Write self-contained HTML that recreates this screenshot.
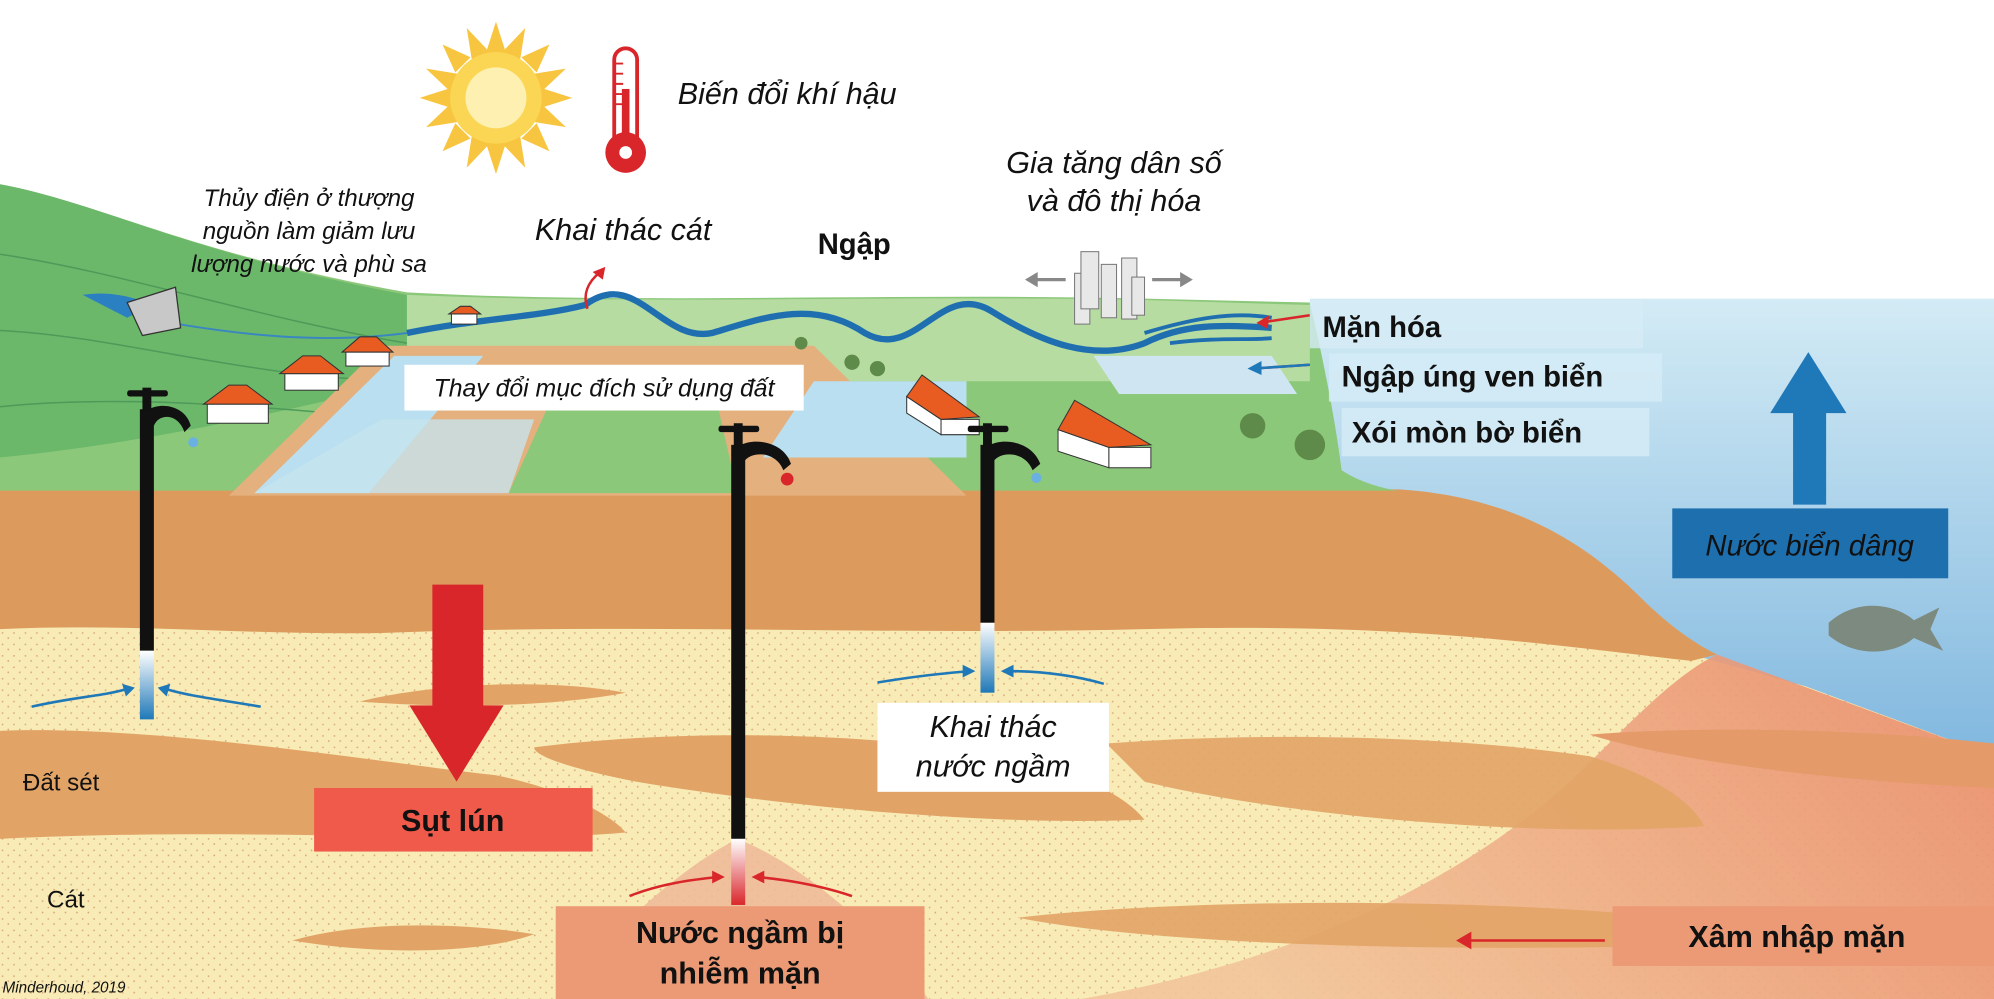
<!DOCTYPE html>
<html><head><meta charset="utf-8"><style>
html,body{margin:0;padding:0;background:#fff;width:1994px;height:999px;overflow:hidden}
svg{display:block}
text{font-family:"Liberation Sans",sans-serif;fill:#111}
.i{font-style:italic}
.b{font-weight:bold}
</style></head><body>
<svg width="1994" height="999" viewBox="0 0 1568 786" preserveAspectRatio="none" xmlns="http://www.w3.org/2000/svg">
<defs>
<linearGradient id="sea" x1="0" y1="0" x2="0" y2="1"><stop offset="0" stop-color="#d3ebf5"/><stop offset="1" stop-color="#7fb6de"/></linearGradient>
<linearGradient id="salt" x1="1" y1="0" x2="0" y2="0.3"><stop offset="0" stop-color="#e98a6a"/><stop offset="1" stop-color="#f2c49a"/></linearGradient>
<pattern id="dots" width="9" height="9" patternUnits="userSpaceOnUse"><rect width="9" height="9" fill="#f8ebb5"/><circle cx="2" cy="3" r="0.7" fill="#d9a878"/><circle cx="6.5" cy="7" r="0.7" fill="#d9a878"/></pattern>
<linearGradient id="pipeb" x1="0" y1="0" x2="0" y2="1"><stop offset="0" stop-color="#fff"/><stop offset="1" stop-color="#1f78b8"/></linearGradient>
<linearGradient id="piper" x1="0" y1="0" x2="0" y2="1"><stop offset="0" stop-color="#fff"/><stop offset="1" stop-color="#d9262b"/></linearGradient>
</defs>
<!-- sea -->
<rect x="1030" y="235" width="538" height="370" fill="url(#sea)"/>
<!-- sand -->
<path d="M0 480 L1100 480 L1330 515 L1420 540 L1568 595 L1568 786 L0 786Z" fill="url(#dots)"/>
<!-- salt region -->
<path d="M850 786 C1000 760 1150 700 1250 600 C1290 560 1320 530 1350 515 L1568 595 L1568 786Z" fill="url(#salt)" opacity="0.9"/>
<path d="M580 660 C540 680 480 730 440 786 L730 786 C690 730 630 680 580 660Z" fill="#efb998" opacity="0.85"/>
<!-- clay lenses -->
<path d="M283 552 C330 540 420 532 492 545 C440 555 360 558 283 552Z" fill="#e2a466"/>
<path d="M0 575 C120 570 300 600 390 610 C440 620 480 640 492 655 C380 665 200 650 0 660Z" fill="#e2a466"/>
<path d="M420 588 C520 575 650 575 760 590 C830 600 880 620 900 645 C780 650 620 635 500 615 C450 605 420 595 420 588Z" fill="#e2a466"/>
<path d="M870 585 C1000 575 1150 580 1250 595 C1300 610 1330 630 1340 650 C1200 660 1000 640 900 615Z" fill="#e2a466" opacity="0.9"/>
<path d="M1250 578 C1350 570 1480 575 1568 585 L1568 620 C1450 615 1320 600 1250 578Z" fill="#e59a6a"/>
<path d="M230 740 C280 725 360 725 420 735 C380 750 300 752 230 740Z" fill="#e2a466"/>
<path d="M800 722 C900 710 1100 705 1270 718 L1270 745 C1100 748 900 742 800 722Z" fill="#e2a466" opacity="0.9"/>
<!-- brown clay top layer -->
<path d="M0 385 L1100 385 C1180 390 1240 420 1290 470 C1310 490 1330 505 1350 515 L1330 520 C1200 505 1100 490 900 495 C700 500 500 490 300 498 C200 500 100 490 0 495Z" fill="#dc9a5c"/>
<!-- green land -->
<path d="M0 145 C80 160 150 200 320 230 C500 240 700 230 900 235 L1030 238 C1040 280 1050 330 1055 370 C1070 380 1090 385 1100 386 L0 386Z" fill="#8cc87a"/>
<path d="M0 145 C80 160 150 200 320 232 L320 300 C200 330 100 350 0 360Z" fill="#6cb86a"/>
<path d="M0 200 C100 215 200 250 320 270 M0 260 C100 265 200 300 330 300 M0 320 C100 310 200 320 320 330" stroke="#4e9a5a" stroke-width="1.2" fill="none"/>
<path d="M320 232 C500 240 700 232 900 236 L1030 240 L1030 300 L320 300Z" fill="#b6dca2"/>
<!-- farmland -->
<path d="M180 390 L300 272 L640 272 L760 390Z" fill="#e4b07e"/>
<path d="M200 388 L310 280 L380 280 L290 388Z" fill="#b9dff0"/>
<path d="M400 388 L440 300 L560 300 L580 388Z" fill="#8cc87a"/>
<path d="M600 360 L640 300 L760 300 L760 360Z" fill="#b9dff0"/>
<path d="M300 330 L420 330 L400 388 L200 388Z" fill="#c6e3ee" opacity=".8"/>
<path d="M860 280 L1000 280 L1020 310 L880 310Z" fill="#cfe6f2"/>
<!-- river -->
<path d="M320 262 C380 250 420 250 460 240 C500 210 520 270 560 262 C600 250 640 235 680 262 C720 285 740 220 780 245 C820 270 860 285 900 270 C930 255 960 255 1000 258" stroke="#1f6fb0" stroke-width="5" fill="none"/>
<path d="M900 262 C940 250 970 245 1000 250 M920 270 C960 265 980 268 1000 266" stroke="#1f6fb0" stroke-width="3" fill="none"/>
<path d="M140 255 C200 265 260 270 320 262" stroke="#3a86c0" stroke-width="1.5" fill="none"/>
<path d="M65 232 C90 228 110 236 120 240 L100 250Z" fill="#2b80c2"/>
<path d="M100 238 L138 226 L142 258 L112 264Z" fill="#c8c8c8" stroke="#333"/>
<path d="M462 243 C458 232 462 222 472 214" stroke="#d9262b" stroke-width="2" fill="none"/>
<path d="M476 210 L466 214 L474 220Z" fill="#d9262b"/>
<!-- houses -->
<g stroke="#333" stroke-width="0.8">
<rect x="163" y="318" width="48" height="15" fill="#fff"/><path d="M160 318 L180 303 L194 303 L214 318Z" fill="#e85c22"/>
<rect x="224" y="294" width="42" height="13" fill="#fff"/><path d="M220 294 L238 280 L252 280 L270 294Z" fill="#e85c22"/>
<rect x="272" y="277" width="34" height="11" fill="#fff"/><path d="M269 277 L283 265 L296 265 L309 277Z" fill="#e85c22"/>
<rect x="355" y="247" width="20" height="8" fill="#fff"/><path d="M353 247 L362 241 L370 241 L378 247Z" fill="#e85c22"/>
<path d="M713 312 L740 330 L740 342 L713 325Z" fill="#fff"/><path d="M740 330 L770 330 L770 342 L740 342Z" fill="#fff"/><path d="M713 312 L725 295 L770 328 L740 330Z" fill="#e85c22"/>
<path d="M832 338 L872 352 L872 368 L832 355Z" fill="#fff"/><path d="M872 352 L905 352 L905 368 L872 368Z" fill="#fff"/><path d="M832 338 L845 315 L905 350 L872 352Z" fill="#e85c22"/>
</g>
<!-- city -->
<g fill="#e8e8e8" stroke="#777" stroke-width="0.8"><rect x="845" y="215" width="12" height="40"/><rect x="850" y="198" width="14" height="45"/><rect x="866" y="208" width="12" height="42"/><rect x="882" y="203" width="12" height="48"/><rect x="890" y="218" width="10" height="30"/></g>
<path d="M808 220 L838 220 M906 220 L936 220" stroke="#888" stroke-width="2.5"/>
<path d="M806 220 L816 214 L816 226Z M938 220 L928 214 L928 226Z" fill="#888"/>
<!-- trees -->
<g fill="#5e8a4a"><circle cx="985" cy="335" r="10"/><circle cx="1030" cy="350" r="12"/><circle cx="670" cy="285" r="6"/><circle cx="690" cy="290" r="6"/><circle cx="630" cy="270" r="5"/></g>
<!-- arrows blue small -->
<path d="M990 254 L1030 248 M985 290 L1030 287" stroke="#d9262b" stroke-width="2"/>
<path d="M985 290 L1030 287" stroke="#1f78b8" stroke-width="2"/>
<path d="M988 254 L998 248 L997 259Z" fill="#d9262b"/><path d="M981 290 L992 284 L992 295Z" fill="#1f78b8"/>
<!-- boxes right -->
<rect x="1030" y="236" width="262" height="38" fill="#d6ecf6" opacity=".8"/>
<rect x="1045" y="278" width="262" height="38" fill="#d6ecf6" opacity=".8"/>
<rect x="1055" y="321" width="242" height="38" fill="#d6ecf6" opacity=".8"/>
<text x="1040" y="265" font-size="23" class="b">Mặn hóa</text>
<text x="1055" y="304" font-size="23" class="b">Ngập úng ven biển</text>
<text x="1063" y="348" font-size="23" class="b">Xói mòn bờ biển</text>
<!-- sea rise -->
<path d="M1410 397 L1410 325 L1392 325 L1422 277 L1452 325 L1436 325 L1436 397Z" fill="#1f78b8"/>
<rect x="1315" y="400" width="217" height="55" fill="#1d6fae"/>
<text x="1423" y="437" font-size="23" class="i" text-anchor="middle">Nước biển dâng</text>
<path d="M1438 490 C1460 470 1490 475 1505 488 L1525 478 L1518 495 L1528 512 L1505 502 C1490 515 1460 518 1438 500Z" fill="#7d8a80"/>
<!-- sun -->
<g transform="translate(390,77)"><g fill="#f8c540">
<polygon points="0,-60 8,-35 -8,-35"/><polygon points="0,60 8,35 -8,35"/><polygon points="-60,0 -35,8 -35,-8"/><polygon points="60,0 35,8 35,-8"/>
<polygon points="42,-42 20,-32 32,-20"/><polygon points="-42,42 -20,32 -32,20"/><polygon points="-42,-42 -20,-32 -32,-20"/><polygon points="42,42 20,32 32,20"/>
<polygon points="23,-55 19,-30 5,-36"/><polygon points="-23,55 -19,30 -5,36"/><polygon points="55,23 30,19 36,5"/><polygon points="-55,-23 -30,-19 -36,-5"/>
<polygon points="-23,-55 -19,-30 -5,-36"/><polygon points="23,55 19,30 5,36"/><polygon points="55,-23 30,-19 36,-5"/><polygon points="-55,23 -30,19 -36,5"/></g>
<circle r="36" fill="#fbd654"/><circle r="24" fill="#fdf0b0"/></g>
<!-- thermometer -->
<rect x="483" y="38" width="18" height="80" rx="9" fill="#fff" stroke="#d9262b" stroke-width="3"/>
<circle cx="492" cy="120" r="16" fill="#d9262b"/><rect x="489" y="70" width="6" height="45" fill="#d9262b"/>
<g stroke="#d9262b" stroke-width="1.5"><path d="M484 50h6M484 58h6M484 66h6M484 74h6M484 82h6"/></g>
<circle cx="492" cy="120" r="5" fill="#fff"/>
<!-- labels -->
<text x="533" y="82" font-size="24" class="i">Biến đổi khí hậu</text>
<text x="243" y="162" font-size="19" class="i" text-anchor="middle">Thủy điện ở thượng</text>
<text x="243" y="188" font-size="19" class="i" text-anchor="middle">nguồn làm giảm lưu</text>
<text x="243" y="214" font-size="19" class="i" text-anchor="middle">lượng nước và phù sa</text>
<text x="490" y="189" font-size="24" class="i" text-anchor="middle">Khai thác cát</text>
<text x="643" y="200" font-size="23" class="b">Ngập</text>
<text x="876" y="136" font-size="24" class="i" text-anchor="middle">Gia tăng dân số</text>
<text x="876" y="166" font-size="24" class="i" text-anchor="middle">và đô thị hóa</text>
<rect x="318" y="287" width="314" height="36" fill="#fff"/>
<text x="475" y="312" font-size="19.5" class="i" text-anchor="middle">Thay đổi mục đích sử dụng đất</text>
<!-- taps -->
<g fill="#111">
<rect x="110" y="322" width="11" height="190"/><path d="M110 330 C115 315 145 315 150 335 L145 340 C140 325 125 325 121 335Z"/><rect x="112" y="305" width="7" height="18"/><rect x="100" y="307" width="32" height="5" rx="2"/>
<rect x="575" y="350" width="11" height="310"/><path d="M575 358 C580 343 615 343 622 365 L616 370 C610 355 592 355 586 362Z"/><rect x="577" y="333" width="7" height="18"/><rect x="565" y="335" width="32" height="5" rx="2"/>
<rect x="771" y="350" width="11" height="140"/><path d="M771 358 C776 343 810 343 818 365 L812 370 C806 355 788 355 782 362Z"/><rect x="773" y="333" width="7" height="18"/><rect x="761" y="335" width="32" height="5" rx="2"/>
</g>
<rect x="110" y="512" width="11" height="54" fill="url(#pipeb)"/>
<rect x="771" y="490" width="11" height="55" fill="url(#pipeb)"/>
<rect x="575" y="660" width="11" height="52" fill="url(#piper)"/>
<circle cx="152" cy="348" r="4" fill="#6ab0e0"/><circle cx="619" cy="377" r="5" fill="#d9262b"/><circle cx="815" cy="376" r="4" fill="#6ab0e0"/>
<!-- inflow arrows -->
<g stroke="#1f78b8" stroke-width="2" fill="none"><path d="M25 556 C60 548 80 548 100 542"/><path d="M205 556 C170 550 150 548 130 542"/><path d="M690 537 C720 532 740 530 762 528"/><path d="M868 538 C840 530 815 528 792 528"/></g>
<g fill="#1f78b8"><path d="M106 541 L96 538 L99 548Z"/><path d="M124 541 L134 538 L131 548Z"/><path d="M767 528 L757 523 L757 533Z"/><path d="M787 528 L797 523 L797 533Z"/></g>
<g stroke="#d9262b" stroke-width="2" fill="none"><path d="M495 705 C520 695 545 692 565 690"/><path d="M670 705 C640 695 615 692 596 690"/><path d="M1262 740 L1155 740"/></g>
<g fill="#d9262b"><path d="M570 690 L560 685 L560 695Z"/><path d="M591 690 L601 685 L601 695Z"/><path d="M1145 740 L1157 733 L1157 747Z"/></g>
<!-- subsidence -->
<path d="M340 460 L380 460 L380 555 L396 555 L359 615 L322 555 L340 555Z" fill="#d9262b"/>
<rect x="247" y="620" width="219" height="50" fill="#ef5a4a"/>
<text x="356" y="654" font-size="24" class="b" text-anchor="middle">Sụt lún</text>
<rect x="690" y="553" width="182" height="70" fill="#fff"/>
<text x="781" y="580" font-size="24" class="i" text-anchor="middle">Khai thác</text>
<text x="781" y="611" font-size="24" class="i" text-anchor="middle">nước ngầm</text>
<rect x="437" y="713" width="290" height="73" fill="#eb9a75"/>
<text x="582" y="742" font-size="24" class="b" text-anchor="middle">Nước ngầm bị</text>
<text x="582" y="774" font-size="24" class="b" text-anchor="middle">nhiễm mặn</text>
<rect x="1268" y="713" width="300" height="47" fill="#eb9a75"/>
<text x="1413" y="745" font-size="24" class="b" text-anchor="middle">Xâm nhập mặn</text>
<text x="18" y="622" font-size="19">Đất sét</text>
<text x="37" y="714" font-size="19">Cát</text>
<text x="2" y="781" font-size="12" class="i" fill="#333">Minderhoud, 2019</text>
</svg>
</body></html>
